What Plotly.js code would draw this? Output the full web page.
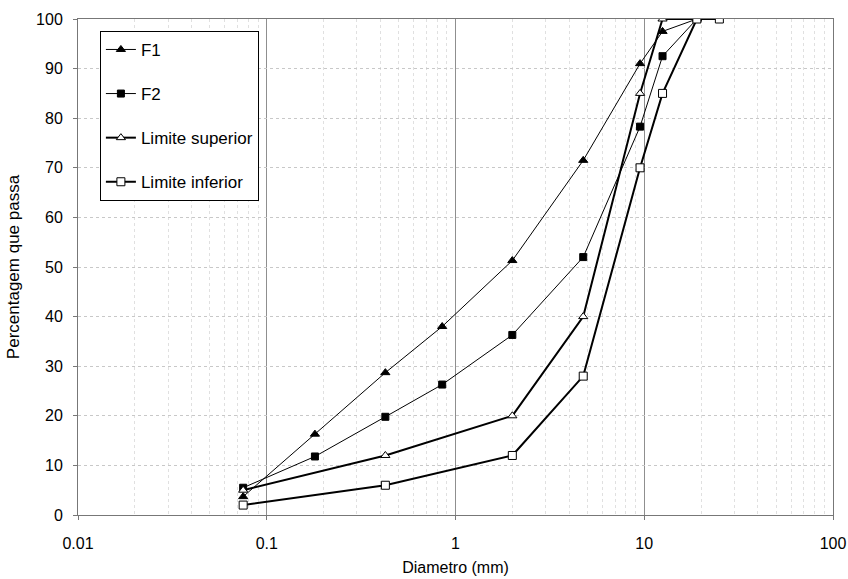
<!DOCTYPE html>
<html>
<head>
<meta charset="utf-8">
<script src="https://cdn.plot.ly/plotly-3.0.1.min.js"></script>
<style>html,body{margin:0;padding:0;background:#fff;}#chart{width:848px;height:579px;}</style>
</head>
<body>
<div id="chart"></div>
<script>
// Data
const diamF = [0.075, 0.18, 0.425, 0.85, 2.0, 4.75, 9.5, 12.5, 19];
const F1 = [3.7, 16.3, 28.7, 38.0, 51.3, 71.5, 91.0, 97.5, 100];
const F2 = [5.5, 11.8, 19.8, 26.3, 36.3, 52.0, 78.3, 92.5, 100];
const diamSup = [0.075, 0.425, 2.0, 4.75, 9.5, 12.5, 19];
const limSup = [5, 12, 20, 40, 85, 100, 100];
const diamInf = [0.075, 0.425, 2.0, 4.75, 9.5, 12.5, 19, 25];
const limInf = [2, 6, 12, 28, 70, 85, 100, 100];
const xTickVals = [0.01, 0.1, 1, 10, 100];
const xTickText = ["0.01", "0.1", "1", "10", "100"];
const yTickVals = [0, 10, 20, 30, 40, 50, 60, 70, 80, 90, 100];

const fam = "Liberation Sans, Arial, sans-serif";
const tickFont = {family: fam, size: 16, color: "#000"};
const titleFont = {family: fam, size: 16, color: "#000"};
const legendFont = {family: fam, size: 17, color: "#000"};

const traces = [
  {x: diamF, y: F1, name: "F1", legendgroup: "a", mode: "lines+markers",
   line: {color: "#000", width: 1},
   marker: {symbol: "triangle-up", size: 8, color: "#000", line: {color: "#000", width: 1}}},
  {x: diamF, y: F2, name: "F2", legendgroup: "b", mode: "lines+markers",
   line: {color: "#000", width: 1},
   marker: {symbol: "square", size: 7, color: "#000", line: {color: "#000", width: 1}}},
  {x: diamSup, y: limSup, name: "Limite superior", legendgroup: "c", mode: "lines+markers",
   line: {color: "#000", width: 2},
   marker: {symbol: "triangle-up", size: 8, color: "#fff", line: {color: "#000", width: 1}}},
  {x: diamInf, y: limInf, name: "Limite inferior", legendgroup: "d", mode: "lines+markers",
   line: {color: "#000", width: 2},
   marker: {symbol: "square", size: 8, color: "#fff", line: {color: "#000", width: 1}}}
];

const layout = {
  width: 848, height: 579,
  margin: {l: 78, r: 15, t: 19, b: 64},
  paper_bgcolor: "#fff", plot_bgcolor: "#fff",
  font: tickFont,
  showlegend: true,
  legend: {
    x: 0.029, y: 0.976, xanchor: "left", yanchor: "top",
    bgcolor: "#fff", bordercolor: "#000", borderwidth: 1,
    font: legendFont, tracegroupgap: 19, itemwidth: 30
  },
  xaxis: {
    type: "log", range: [-2, 2],
    tickvals: xTickVals, ticktext: xTickText,
    ticks: "outside", ticklen: 4, tickcolor: "#777",
    ticklabelstandoff: 10,
    showline: true, linecolor: "#777", linewidth: 1, mirror: true,
    showgrid: true, gridcolor: "#8f8f8f", gridwidth: 1,
    zeroline: false,
    minor: {dtick: "D1", showgrid: true, gridcolor: "#e0e0e0", griddash: "dot", gridwidth: 1},
    tickfont: tickFont,
    title: {text: "Diametro (mm)", font: titleFont, standoff: 10}
  },
  yaxis: {
    range: [0, 100],
    tickvals: yTickVals,
    ticks: "outside", ticklen: 4, tickcolor: "#777",
    ticklabelstandoff: 7,
    showline: true, linecolor: "#777", linewidth: 1, mirror: true,
    showgrid: true, gridcolor: "#c8c8c8", griddash: "dot", gridwidth: 1,
    zeroline: false,
    tickfont: tickFont,
    title: {text: "Percentagem que passa", font: {family: fam, size: 17, color: "#000"}, standoff: 12}
  }
};

Plotly.newPlot("chart", traces, layout, {displayModeBar: false, staticPlot: true});
</script>
</body>
</html>
